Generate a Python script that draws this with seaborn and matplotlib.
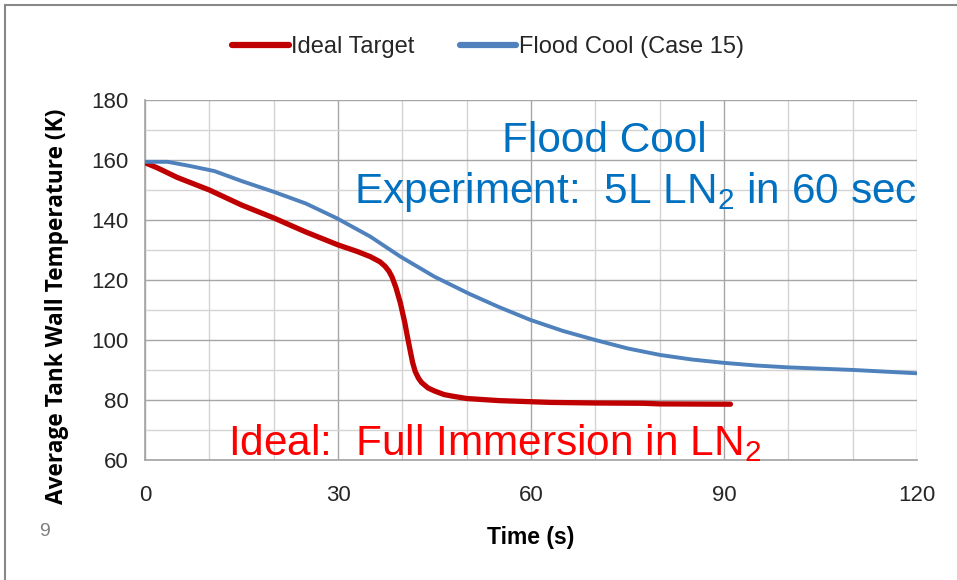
import matplotlib
matplotlib.use("Agg")
import matplotlib.pyplot as plt
import seaborn as sns
import pandas as pd
from matplotlib.ticker import MultipleLocator

sns.set_theme(style="white")
plt.rcParams['font.family'] = ['Liberation Sans Narrow', 'Liberation Sans', 'DejaVu Sans']

# Data
ideal_t = [0, 2, 5, 10, 15, 20, 25, 30, 33, 35, 36.5, 37.3, 37.9, 38.4, 39, 39.7, 40.4, 40.8,
           41.2, 41.6, 42, 42.5, 43, 44, 45, 46.5, 48, 50, 55, 63, 70, 77.5, 80, 91]
ideal_T = [159.1, 157.3, 154.2, 150, 145, 140.7, 136, 131.7, 129.5, 127.8, 126.1, 124.6, 123,
           121, 117.5, 112.3, 105.6, 101, 96.7, 92.5, 89.5, 87.3, 85.8, 84, 83, 81.8, 81.2,
           80.5, 79.8, 79.2, 79.0, 78.9, 78.7, 78.6]
flood_t = [0, 3.5, 7, 10.8, 15, 20, 25, 29.8, 35, 39.7, 45, 50.5, 55, 59.9, 65, 70, 75, 80.1,
           85, 89.9, 95, 99.8, 110.2, 120]
flood_T = [159.4, 159.4, 158, 156.3, 153, 149.4, 145.5, 140.6, 134.5, 127.8, 121.1, 115.3,
           111, 106.7, 103, 100.0, 97.2, 95.0, 93.5, 92.4, 91.5, 90.9, 90.0, 88.9]

x_ticks = [0, 30, 60, 90, 120]
y_ticks = [60, 80, 100, 120, 140, 160, 180]
series_names = ["Ideal Target", "Flood Cool (Case 15)"]

df = pd.concat([
    pd.DataFrame({"Time": ideal_t, "Temp": ideal_T, "Series": series_names[0]}),
    pd.DataFrame({"Time": flood_t, "Temp": flood_T, "Series": series_names[1]}),
])

fig = plt.figure(figsize=(9.57, 5.80), dpi=100)
ax = fig.add_axes([145/957, 1 - 460/580, (917-145)/957, (460-100)/580])

palette = {series_names[0]: "#C00000", series_names[1]: "#4F81BD"}
sizes = {series_names[0]: 3.8, series_names[1]: 2.8}
for name in series_names:
    sub = df[df.Series == name]
    sns.lineplot(data=sub, x="Time", y="Temp", ax=ax, color=palette[name],
                 linewidth=sizes[name], label=name, solid_capstyle="round",
                 solid_joinstyle="round", zorder=3)

ax.set_xlim(0, 120)
ax.set_ylim(60, 180)
ax.set_xticks(x_ticks)
ax.set_yticks(y_ticks)
ax.xaxis.set_minor_locator(MultipleLocator(10))
ax.yaxis.set_minor_locator(MultipleLocator(10))
ax.grid(which="major", color="#A6A6A6", linewidth=1.0)
ax.grid(which="minor", color="#D4D4D4", linewidth=1.0)
ax.set_axisbelow(True)
for s in ["top", "right"]:
    ax.spines[s].set_visible(False)
ax.spines["left"].set_color("#A6A6A6")
ax.spines["bottom"].set_color("#A6A6A6")
ax.tick_params(axis="both", which="both", direction="out", color="#A6A6A6", width=1.0)
ax.tick_params(axis="x", which="both", length=10, pad=8, labelsize=16, labelcolor="#262626")
ax.tick_params(axis="y", which="both", length=8, pad=4, labelsize=16, labelcolor="#262626")

ax.set_xlabel("Time (s)", fontsize=16.5, fontweight="bold", color="black")
ax.xaxis.set_label_coords(0.5, -0.182)
ax.set_ylabel("Average Tank Wall Temperature (K)", fontsize=16.3, fontweight="bold",
              color="black", family=["Open Sans", "DejaVu Sans"])
ax.yaxis.set_label_coords(-0.098, 0.428)

ax.text(0.595, 0.856, "Flood Cool", transform=ax.transAxes, ha="center", va="baseline",
        fontsize=30.5, color="#0070C0", family=["Liberation Sans", "DejaVu Sans"])
ax.text(1.0, 0.714, r"Experiment:  5L LN$_\mathregular{2}$ in 60 sec", transform=ax.transAxes,
        ha="right", va="baseline", fontsize=30.5, color="#0070C0",
        family=["Liberation Sans", "DejaVu Sans"])
ax.text((228-145)/772, 0.014, r"Ideal:  Full Immersion in LN$_\mathregular{2}$",
        transform=ax.transAxes, ha="left", va="baseline", fontsize=30.5, color="#FF0000",
        family=["Liberation Sans", "DejaVu Sans"])

leg = ax.legend(loc="center", bbox_to_anchor=((488-145)/772, 1 + 53/360), ncol=2,
                frameon=False, fontsize=17, handlelength=2.4, handletextpad=0.1,
                columnspacing=1.9)
for line in leg.get_lines():
    line.set_linewidth(4.5)
    line.set_solid_capstyle("round")

fig.text(45/957, 1 - 531/580, "9", fontsize=14, color="#808080", ha="center", va="center")

border = plt.Rectangle((5/957, -0.1), 1.2, 1.1 - 5/580, transform=fig.transFigure, fill=False,
                       edgecolor="#888888", linewidth=1.5)
fig.add_artist(border)

fig.savefig("out.png", dpi=100, facecolor="white")
